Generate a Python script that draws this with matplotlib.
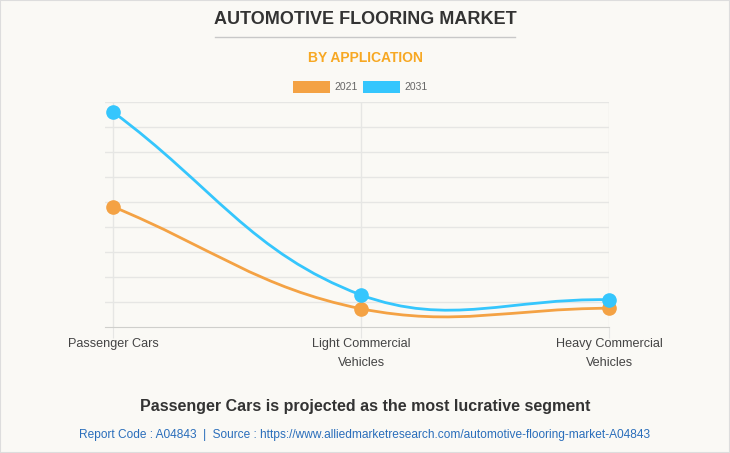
import numpy as np
import matplotlib
matplotlib.use("Agg")
import matplotlib.pyplot as plt
from matplotlib.path import Path
from matplotlib.patches import PathPatch, Rectangle

plt.rcParams['font.family'] = ['Liberation Sans', 'DejaVu Sans']

categories = ["Passenger Cars", "Light Commercial\nVehicles", "Heavy Commercial\nVehicles"]
years = ["2021", "2031"]
values_2021 = [4.81, 0.74, 0.76]
values_2031 = [8.59, 1.29, 1.10]
colors = ["#f4a244", "#35c6fd"]

BG = "#faf9f5"
GRID = "#e6e6e4"
TENSION = 0.4


def spline_path(xs, ys, sx, sy, ymin, ymax):
    # chart.js style bezier spline (tension 0.4, control points capped to area)
    n = len(xs)
    pts = list(zip(xs, ys))
    cps = []
    for i in range(n):
        cur = pts[i]
        prev = pts[i - 1] if i > 0 else cur
        nxt = pts[i + 1] if i < n - 1 else cur
        d01 = np.hypot((cur[0] - prev[0]) * sx, (cur[1] - prev[1]) * sy)
        d12 = np.hypot((nxt[0] - cur[0]) * sx, (nxt[1] - cur[1]) * sy)
        tot = d01 + d12
        s01 = d01 / tot if tot else 0
        s12 = d12 / tot if tot else 0
        fa, fb = TENSION * s01, TENSION * s12
        pc = (cur[0] - fa * (nxt[0] - prev[0]), cur[1] - fa * (nxt[1] - prev[1]))
        nc = (cur[0] + fb * (nxt[0] - prev[0]), cur[1] + fb * (nxt[1] - prev[1]))
        pc = (pc[0], min(max(pc[1], ymin), ymax))
        nc = (nc[0], min(max(nc[1], ymin), ymax))
        cps.append((pc, nc))
    verts = [pts[0]]
    codes = [Path.MOVETO]
    for i in range(1, n):
        verts += [cps[i - 1][1], cps[i][0], pts[i]]
        codes += [Path.CURVE4] * 3
    return Path(verts, codes)


fig = plt.figure(figsize=(7.3, 4.53), dpi=100)
fig.patch.set_facecolor(BG)
fig.patches.append(Rectangle((0, 0), 1, 1, transform=fig.transFigure, fill=False,
                             edgecolor="#dddddd", linewidth=1.5))

W, H = 730, 453
left, right, top, bottom = 105, 609, 101.7, 327.3
ax = fig.add_axes([left / W, 1 - bottom / H, (right - left) / W, (bottom - top) / H])
ax.set_facecolor(BG)
x = np.arange(len(categories))
ax.set_xlim(-8 / 248, 2)
ax.set_ylim(0, 9)
sx, sy = 248, (bottom - top) / 9

for k in range(1, 10):
    ax.axhline(k, color=GRID, lw=1, zorder=0)
for xi in x:
    ax.axvline(xi, color=GRID, lw=1, zorder=0)

for spine in ax.spines.values():
    spine.set_visible(False)
ax.spines['bottom'].set_visible(True)
ax.spines['bottom'].set_color("#cfcfcc")
ax.set_yticks([])
ax.set_xticks(x)
ax.set_xticklabels(categories, fontsize=9.1, color="#444444", linespacing=1.75)
ax.tick_params(axis='x', length=8, color=GRID, pad=0)

for vals, c in zip([values_2021, values_2031], colors):
    path = spline_path(x, vals, sx, sy, 0, 9)
    ax.add_patch(PathPatch(path, facecolor='none', edgecolor=c, lw=2.0, zorder=3,
                           capstyle='round', joinstyle='round'))
    ax.plot(x, vals, 'o', color=c, markersize=9.5, zorder=4, clip_on=False)

# titles
fig.text(0.5, 1 - 20 / H, "AUTOMOTIVE FLOORING MARKET", ha='center', va='center',
         fontsize=13, fontweight='bold', color="#333333")
fig.add_artist(plt.Line2D([215 / W, 515 / W], [1 - 37 / H, 1 - 37 / H], color="#c8c8c8", lw=1))
fig.text(0.5, 1 - 58 / H, "BY APPLICATION", ha='center', va='center',
         fontsize=10, fontweight='bold', color="#f7a823")

# legend
for (x0, lab), c in zip([(293, years[0]), (363, years[1])], colors):
    fig.patches.append(Rectangle((x0 / W, 1 - 93 / H), 37 / W, 12 / H,
                                 transform=fig.transFigure, facecolor=c, edgecolor='none'))
    fig.text((x0 + 41) / W, 1 - 87 / H, lab, ha='left', va='center', fontsize=7.5, color="#666666")

fig.text(0.5, 1 - 407 / H, "Passenger Cars is projected as the most lucrative segment",
         ha='center', va='center', fontsize=11.5, fontweight='bold', color="#333333")
fig.text(0.5, 1 - 435 / H,
         "Report Code : A04843  |  Source : https://www.alliedmarketresearch.com/automotive-flooring-market-A04843",
         ha='center', va='center', fontsize=8.6, color="#2a6ebb")

fig.savefig("out.png", dpi=100, facecolor=BG)
